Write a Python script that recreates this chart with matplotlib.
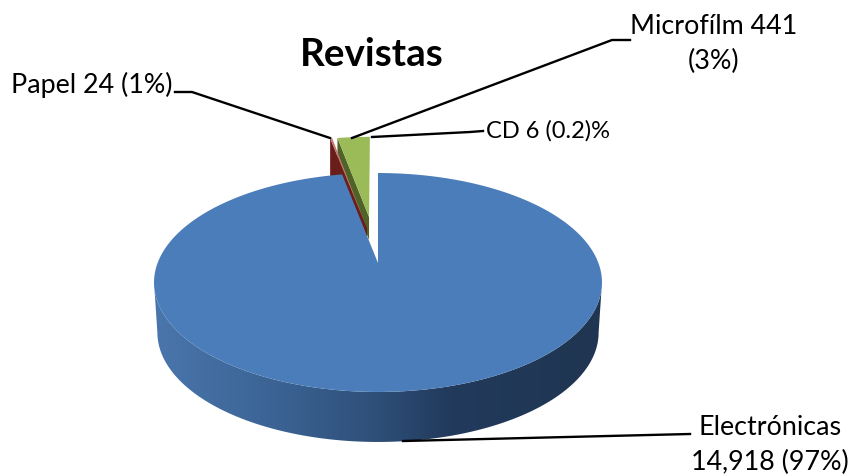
import numpy as np
import matplotlib
matplotlib.use("Agg")
import matplotlib.pyplot as plt
from matplotlib.colors import LinearSegmentedColormap
from matplotlib.patches import Polygon

plt.rcParams['font.family'] = ['Lato', 'DejaVu Sans']

# data
categories = ["Electrónicas", "Papel", "Microfílm", "CD"]
values = [14918, 24, 441, 6]
top_colors = ["#4b7dba", "#c4746f", "#9bbb59", "#ffffff"]
wall_colors = ["#2f5078", "#6b1d1a", "#4f6228", "#dcdcdc"]
title = "Revistas"

# pie geometry in pixels
cx, cy = 378, 263
a, b, k = 106, 220.4, 0.178
depth = 50

fig = plt.figure(figsize=(8.49, 4.75), dpi=100)
ax = fig.add_axes([0, 0, 1, 1])
ax.set_xlim(0, 849)
ax.set_ylim(475, 0)
ax.axis('off')


# tilted plane projection of the unit circle
def project(u, v):
    w = 1 + k * v
    return cx + b * u / w, cy - a * v / w


def slice_points(t1, t2, du=0, dv=0, r=1.0):
    th = np.radians(np.linspace(t1, t2, max(int(t2 - t1) * 2, 4)))
    u = np.r_[du, du + r * np.sin(th)]
    v = np.r_[dv, dv + r * np.cos(th)]
    return np.column_stack(project(u, v))


def draw_slice(i, du, dv, r, drop, z):
    p = slice_points(edges[i], edges[i + 1], du, dv, r)
    # cut face on the left side of the slice
    face = np.array([p[0], p[1], p[1] + [0, drop], p[0] + [0, drop]])
    ax.add_patch(Polygon(face, closed=True, fc=wall_colors[i], ec="none", zorder=z))
    ax.add_patch(Polygon(p, closed=True, fc=top_colors[i], ec="none", zorder=z + 0.5))


edges = np.r_[0, np.cumsum(values)] / sum(values) * 360

# small slices pulled out of the pie, back to front
draw_slice(2, -0.044, 0.47, 1.04, 23, 2)
draw_slice(1, -0.053, 0.35, 1.16, 37, 3)
draw_slice(3, -0.03, 0.42, 1.1, 6, 2)

# side wall of the big slice with a left to right shade
widest = np.degrees(np.arccos(-k))
th = np.radians(np.linspace(widest, 360 - widest, 300))
rim = np.column_stack(project(np.sin(th), np.cos(th)))
low = rim.copy()
low[:, 0] = cx + (rim[:, 0] - cx) * 0.985
low[:, 1] = rim[:, 1] + depth
outline = np.vstack([rim, low[::-1]])
cmap = LinearSegmentedColormap.from_list(
    "wall",
    [(0, "#4a76ad"), (0.25, "#3c6596"), (0.5, "#2e4f78"), (0.66, "#223a5c"), (1, "#1f3551")],
)
img = ax.imshow(np.linspace(0, 1, 256)[None, :], cmap=cmap, aspect='auto',
                extent=(154, 602, 450, 270), zorder=4)
clip = Polygon(outline, closed=True, transform=ax.transData, fc="none", ec="none")
ax.add_patch(clip)
img.set_clip_path(clip)
ax.set_xlim(0, 849)
ax.set_ylim(475, 0)

# top of the big slice
ax.add_patch(Polygon(slice_points(edges[0], edges[1]), closed=True,
                     fc=top_colors[0], ec="none", zorder=5))

# leader lines
leaders = [
    ([175, 192, 330], [92, 92, 138]),
    ([630, 612, 352], [40, 40, 138]),
    ([483, 470, 372], [131, 132, 137]),
    ([690, 403], [434, 441]),
]
for xs, ys in leaders:
    ax.plot(xs, ys, color="black", lw=1.7, zorder=6, solid_joinstyle='miter')

# text
ax.text(372, 54, title, fontsize=27.8, fontweight='bold', ha='center', va='center')
ax.text(91.5, 85, f"{categories[1]} {values[1]} (1%)", fontsize=19.4, ha='center', va='center')
ax.text(714, 44, f"{categories[2]} {values[2]}\n(3%)", fontsize=19.4, ha='center', va='center',
        linespacing=1.5)
ax.text(548, 131, f"{categories[3]} {values[3]} (0.2)%", fontsize=17, ha='center', va='center')
ax.text(770, 445, f"{categories[0]}\n{values[0]:,} (97%)", fontsize=19.4, ha='center', va='center',
        linespacing=1.5)

fig.savefig("out.png", dpi=100)
